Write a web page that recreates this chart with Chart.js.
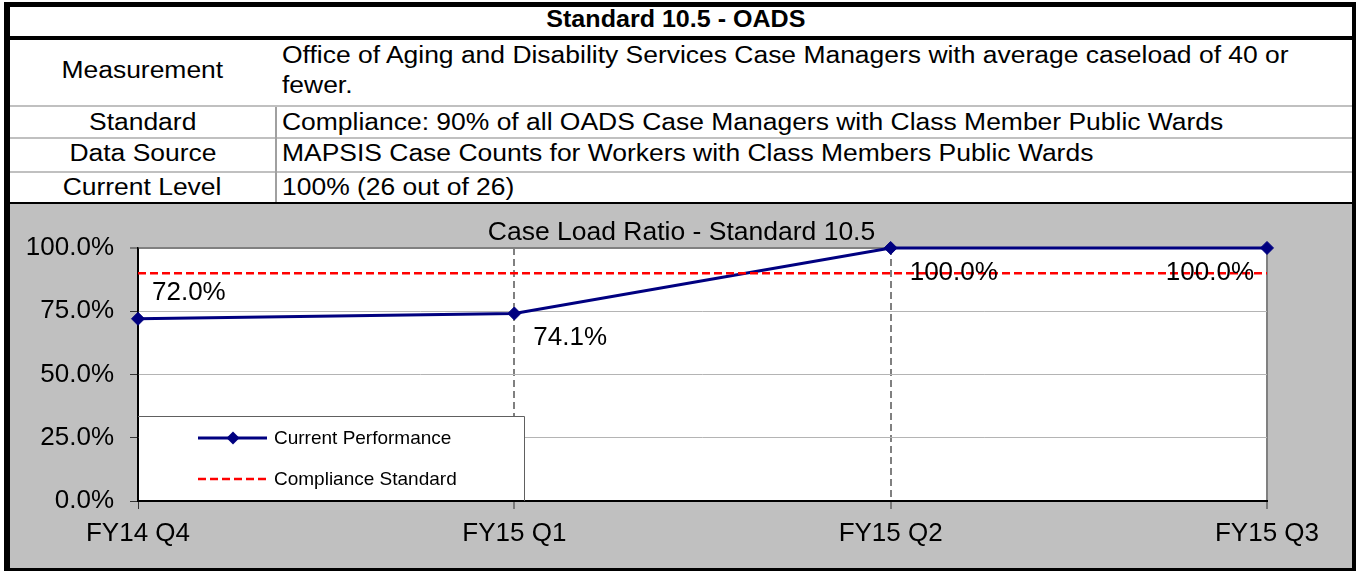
<!DOCTYPE html>
<html>
<head>
<meta charset="utf-8">
<script src="https://cdn.jsdelivr.net/npm/chart.js@4/dist/chart.umd.min.js"></script>
<style>
html,body{margin:0;padding:0;background:#fff;}
body{width:1356px;height:571px;position:relative;overflow:hidden;font-family:'Liberation Sans',Arial,sans-serif;color:#000;}
.abs{position:absolute;}
.frame{left:4px;top:2px;width:1352px;height:569px;box-sizing:border-box;border-style:solid;border-color:#000;border-width:5px 4px 3px 6px;}
.hl{left:10px;width:1342px;}
.t{position:absolute;font-size:23px;line-height:23px;white-space:nowrap;}
.t span{display:inline-block;transform:scaleX(1.15);}
.l span{transform-origin:left center;}
.c{text-align:center;}
.c span{transform-origin:center center;}
</style>
</head>
<body>
<div class="abs frame"></div>
<div class="abs hl" style="top:36px;height:4px;background:#000"></div>
<div class="abs hl" style="top:105px;height:2px;background:#c0c0c0"></div>
<div class="abs hl" style="top:137px;height:2px;background:#c0c0c0"></div>
<div class="abs hl" style="top:171px;height:2px;background:#c0c0c0"></div>
<div class="abs hl" style="top:202px;height:2px;background:#000"></div>
<div class="abs" style="left:275px;top:107px;width:2px;height:95px;background:#a0a0a0"></div>
<div class="abs" style="left:10px;top:204px;width:1342px;height:364px;background:#c0c0c0"></div>

<div class="t c" style="left:0;width:1352px;top:7.5px;font-weight:bold"><span style="transform:scaleX(1.09)">Standard 10.5 - OADS</span></div>
<div class="t c" style="left:10px;width:265px;top:59.2px"><span>Measurement</span></div>
<div class="t l" style="left:282px;top:43.8px"><span>Office of Aging and Disability Services Case Managers with average caseload of 40 or</span></div>
<div class="t l" style="left:282px;top:73.8px"><span>fewer.</span></div>
<div class="t c" style="left:10px;width:265px;top:110.5px"><span>Standard</span></div>
<div class="t l" style="left:282px;top:110.5px"><span>Compliance: 90% of all OADS Case Managers with Class Member Public Wards</span></div>
<div class="t c" style="left:10px;width:265px;top:142.2px"><span>Data Source</span></div>
<div class="t l" style="left:282px;top:142.2px"><span>MAPSIS Case Counts for Workers with Class Members Public Wards</span></div>
<div class="t c" style="left:10px;width:265px;top:175.5px"><span>Current Level</span></div>
<div class="t l" style="left:282px;top:175.5px"><span>100% (26 out of 26)</span></div>

<canvas id="c" width="1342" height="364" style="position:absolute;left:10px;top:204px;"></canvas>

<script>
const categories = ['FY14 Q4', 'FY15 Q1', 'FY15 Q2', 'FY15 Q3'];
const currentPerformance = [72.0, 74.1, 100.0, 100.0];
const complianceStandard = [90, 90, 90, 90];
const yTickValues = [0, 25, 50, 75, 100];
const seriesNames = ['Current Performance', 'Compliance Standard'];
const chartTitle = 'Case Load Ratio - Standard 10.5';

const labelPlacement = [
  {dx: 14, dy: -26, align: 'left'},
  {dx: 19, dy: 24, align: 'left'},
  {dx: 19, dy: 24.5, align: 'left'},
  {dx: -13, dy: 24.5, align: 'right'}
];

const FONT = "'Liberation Sans', Arial, sans-serif";
Chart.defaults.font.family = FONT;
Chart.defaults.color = '#000';

const plotBg = {
  id: 'plotBg',
  afterLayout(chart) {
    // centre the title over the whole grey panel instead of the padded box
    const t = chart.titleBlock;
    if (t) { t.left = 0; t.right = chart.width + 1; }
  },
  beforeDraw(chart) {
    const {ctx, chartArea: a} = chart;
    ctx.save();
    ctx.fillStyle = '#fff';
    ctx.fillRect(a.left, a.top, a.right - a.left, a.bottom - a.top);
    ctx.restore();
  }
};

const boxLegend = {
  id: 'boxLegend',
  beforeDatasetsDraw(chart) {
    const {ctx, chartArea: a} = chart;
    const W = 386, H = 85;
    const x0 = a.left, y0 = a.bottom - H;
    ctx.save();
    ctx.fillStyle = '#fff';
    ctx.fillRect(x0 + 1, y0, W - 1, H - 1);
    ctx.strokeStyle = '#606060';
    ctx.lineWidth = 1;
    ctx.beginPath();
    ctx.moveTo(x0, y0 + 0.5);
    ctx.lineTo(x0 + W + 0.5, y0 + 0.5);
    ctx.lineTo(x0 + W + 0.5, a.bottom);
    ctx.stroke();
    const rows = [22, 63];
    chart.data.datasets.forEach((ds, i) => {
      const y = y0 + rows[i];
      ctx.strokeStyle = ds.borderColor;
      ctx.lineWidth = ds.borderWidth;
      ctx.setLineDash(ds.borderDash || []);
      ctx.beginPath();
      ctx.moveTo(x0 + 60, y);
      ctx.lineTo(x0 + 129, y);
      ctx.stroke();
      ctx.setLineDash([]);
      if (ds.pointRadius > 0) {
        const r = ds.pointRadius;
        const cx = x0 + 95;
        ctx.fillStyle = ds.pointBackgroundColor;
        ctx.beginPath();
        ctx.moveTo(cx, y - r);
        ctx.lineTo(cx + r, y);
        ctx.lineTo(cx, y + r);
        ctx.lineTo(cx - r, y);
        ctx.closePath();
        ctx.fill();
      }
      ctx.fillStyle = '#000';
      ctx.font = '19px ' + FONT;
      ctx.textAlign = 'left';
      ctx.textBaseline = 'middle';
      ctx.fillText(ds.label, x0 + 136, y + 1);
    });
    ctx.restore();
  }
};

const valueLabels = {
  id: 'valueLabels',
  afterDatasetsDraw(chart) {
    const {ctx} = chart;
    const meta = chart.getDatasetMeta(0);
    const ds = chart.data.datasets[0];
    ctx.save();
    ctx.font = '26px ' + FONT;
    ctx.fillStyle = '#000';
    ctx.textBaseline = 'middle';
    meta.data.forEach((pt, i) => {
      const p = labelPlacement[i];
      ctx.textAlign = p.align;
      ctx.fillText(ds.data[i].toFixed(1) + '%', pt.x + p.dx, pt.y + p.dy);
    });
    ctx.restore();
  }
};

const vDash = c => (c.index === 1 || c.index === 2) ? [7, 4] : [];

new Chart(document.getElementById('c'), {
  type: 'line',
  data: {
    labels: categories,
    datasets: [
      {
        label: seriesNames[0],
        data: currentPerformance,
        borderColor: '#000080',
        backgroundColor: '#000080',
        borderWidth: 3,
        pointStyle: 'rectRot',
        pointRadius: 6.5,
        pointBorderWidth: 1,
        pointBackgroundColor: '#000080',
        pointBorderColor: '#000080',
        tension: 0,
        fill: false,
        clip: false,
        order: 2
      },
      {
        label: seriesNames[1],
        data: complianceStandard,
        borderColor: '#ff0000',
        borderWidth: 2.5,
        borderDash: [8, 4],
        pointRadius: 0,
        tension: 0,
        fill: false,
        order: 1
      }
    ]
  },
  options: {
    responsive: false,
    maintainAspectRatio: false,
    devicePixelRatio: 1,
    animation: false,
    layout: {padding: {left: 0, right: 85, top: 0, bottom: 0}},
    plugins: {
      legend: {display: false},
      tooltip: {enabled: false},
      title: {
        display: true,
        text: chartTitle,
        color: '#000',
        font: {size: 26.5, weight: 'normal', lineHeight: 1.13},
        padding: {top: 14, bottom: 0}
      }
    },
    scales: {
      x: {
        type: 'category',
        offset: false,
        grid: {
          color: c => c.index === 0 ? '#000' : '#808080',
          lineWidth: c => c.index === 0 ? 1 : 2,
          borderDash: vDash,
          tickLength: 8,
          tickColor: '#333',
          tickWidth: 1
        },
        border: {display: true, color: '#000', width: 2, dash: vDash},
        ticks: {font: {size: 26}, color: '#000', padding: 9, maxRotation: 0, autoSkip: false},
        afterFit: s => { s.height = 67; }
      },
      y: {
        min: 0,
        max: 100,
        afterBuildTicks: s => { s.ticks = yTickValues.map(v => ({value: v})); },
        grid: {
          color: c => (c.tick && c.tick.value === 100) ? '#808080' : (c.tick && c.tick.value === 0 ? '#000' : '#b4b4b4'),
          lineWidth: c => (c.tick && c.tick.value === 100) ? 2 : 1,
          tickLength: 8,
          tickColor: '#333',
          tickWidth: 1
        },
        border: {display: true, color: '#000', width: 1.5},
        ticks: {font: {size: 26}, color: '#000', padding: 16, callback: v => Number(v).toFixed(1) + '%'},
        afterFit: s => { s.width = 128; }
      }
    }
  },
  plugins: [plotBg, boxLegend, valueLabels]
});
</script>
</body>
</html>
